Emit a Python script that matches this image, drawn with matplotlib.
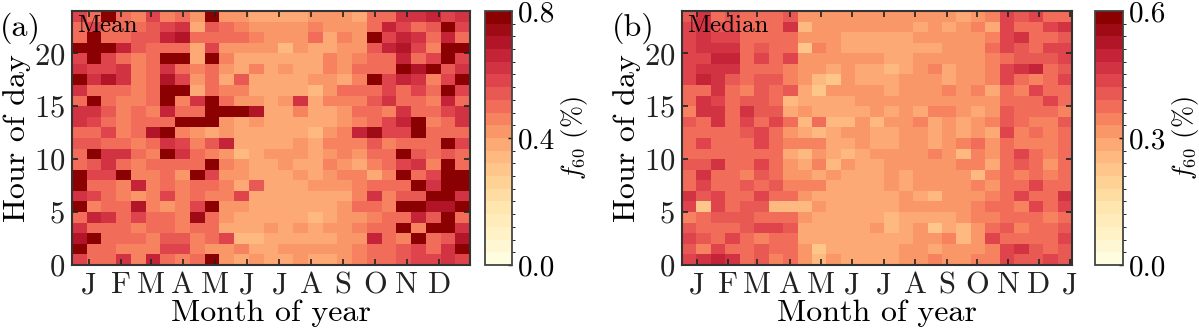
import numpy as np
import matplotlib
matplotlib.use('Agg')
import matplotlib.pyplot as plt
from matplotlib.colors import LinearSegmentedColormap, BoundaryNorm

plt.rcParams['font.family'] = 'serif'
plt.rcParams['font.serif'] = ['cmr10']
plt.rcParams['mathtext.fontset'] = 'cm'
plt.rcParams['axes.formatter.use_mathtext'] = True

# colour level (0..19) of each cell, top row = hour 23
mean_levels = [
    [14,12,19,12,11,14,11,12,10,19,10,10,9, 9,9,9,10,10,10,9,12,12,15,15,16,14,15],
    [12,14,12,12,12,13,14,15,9,13,12,11,10, 10,10,10,11,10,10,10,12,16,14,12,13,19,14],
    [12,19,12,12,13,13,16,17,12,12,12,12,11, 10,10,10,12,9,11,10,19,14,16,15,12,16,12],
    [19,19,19,16,13,12,12,12,9,14,10,10,10, 10,8,10,9,9,10,10,13,16,17,14,11,19,19],
    [14,19,14,12,11,12,19,19,9,19,11,9,9, 9,9,9,9,11,10,11,12,12,16,12,14,19,14],
    [15,14,14,15,11,12,15,12,11,12,10,9,11, 9,10,9,9,11,10,12,12,12,19,17,19,13,15],
    [19,15,17,15,11,12,17,14,10,12,9,13,9, 9,9,9,10,10,9,11,19,14,16,15,11,14,19],
    [15,12,12,12,11,12,19,19,9,12,11,11,9, 9,9,9,8,10,12,12,12,14,12,14,12,19,14],
    [12,19,12,11,11,12,19,11,15,19,12,10,10, 9,10,15,9,11,11,11,13,15,12,12,11,16,12],
    [15,15,13,11,12,11,16,12,12,19,19,19,17, 9,9,11,9,9,10,12,12,11,15,12,12,14,15],
    [15,14,12,11,12,12,12,19,19,19,10,9,10, 9,9,9,9,9,10,11,12,14,16,19,11,12,15],
    [12,12,14,11,12,17,19,11,10,9,10,9,9, 9,9,9,8,10,11,16,18,14,14,19,12,12,12],
    [13,13,12,12,11,12,15,14,11,13,16,9,9, 9,9,10,9,11,11,11,13,11,12,12,12,19,14],
    [12,19,15,15,12,11,19,15,12,11,10,8,9, 10,10,10,9,10,11,10,12,12,19,13,12,13,12],
    [12,13,15,12,11,12,12,12,12,19,11,10,9, 9,10,9,9,11,10,9,11,12,14,15,11,19,12],
    [19,14,14,19,11,11,12,10,19,14,10,10,9, 9,9,10,9,10,11,11,9,11,19,12,14,19,19],
    [19,12,12,11,16,11,12,11,12,12,11,9,13, 9,9,9,10,10,10,11,12,12,12,19,15,19,19],
    [15,14,12,11,10,11,14,11,12,11,11,14,9, 9,9,9,9,9,9,11,15,11,13,13,19,19,15],
    [19,11,12,12,17,11,10,11,14,19,10,10,9, 9,9,9,9,9,10,12,12,11,19,19,17,17,19],
    [12,16,15,12,14,12,12,11,18,12,10,9,9, 9,9,9,8,9,10,10,11,12,12,16,13,19,12],
    [15,12,12,12,11,12,12,11,12,12,9,9,9, 10,9,10,9,10,10,11,12,12,19,11,19,19,15],
    [17,19,12,12,12,11,13,13,11,12,14,8,8, 9,9,9,9,9,10,10,16,12,11,19,12,13,17],
    [19,12,12,11,11,11,14,14,11,10,10,11,9, 9,10,10,10,10,10,11,12,12,13,14,12,15,19],
    [14,12,12,15,11,16,12,11,12,19,10,9,10, 9,9,10,9,9,10,11,12,12,13,14,14,15,14],
]

median_levels = [
    [13,15,12,13,12,12,12,13,10,10,10,10,10, 10,10,10,10,10,10,9,10,11,14,13,14,12,12],
    [14,15,13,13,12,12,12,15,8,10,10,10,10, 10,10,10,9,10,9,10,11,9,14,12,12,14,15],
    [14,15,14,14,12,12,12,12,10,10,10,9,9, 9,9,9,10,10,10,10,10,11,14,15,12,12,13],
    [14,15,15,15,12,13,12,12,7,11,10,9,9, 9,9,9,9,9,10,10,10,12,14,13,12,14,14],
    [14,14,16,16,12,14,12,14,10,10,10,10,10, 10,9,9,10,10,10,10,10,11,12,13,13,13,14],
    [14,15,15,15,12,12,12,11,10,10,9,10,9, 9,8,9,10,11,9,10,10,11,14,15,16,12,13],
    [14,16,15,13,12,13,13,11,10,8,7,10,9, 9,9,10,10,10,9,10,10,11,14,12,11,12,14],
    [12,12,15,12,11,13,12,13,9,7,10,10,10, 10,9,10,10,10,11,10,11,9,12,11,14,12,12],
    [12,15,14,12,13,13,12,8,9,9,9,9,10, 10,10,10,10,10,10,10,10,10,12,12,12,14,12],
    [11,15,15,12,15,13,13,9,10,9,9,9,9, 10,9,10,9,11,11,10,9,10,13,12,12,12,11],
    [13,12,15,12,14,12,14,12,8,12,8,8,10, 8,10,10,11,9,10,9,10,11,13,12,11,11,13],
    [12,12,12,12,13,14,12,10,9,8,9,10,10, 9,9,10,10,9,10,9,10,9,14,11,12,11,12],
    [12,14,12,12,12,14,12,11,11,11,9,9,10, 9,9,10,10,9,10,11,12,10,12,11,11,11,12],
    [12,12,12,12,12,12,12,9,8,10,9,8,9, 10,10,10,10,11,10,8,11,10,12,14,12,11,12],
    [13,13,15,12,12,14,12,10,9,11,8,10,9, 9,10,10,10,10,10,11,11,9,12,13,12,10,12],
    [12,15,12,12,11,13,12,10,10,9,10,9,9, 9,10,9,10,10,10,10,8,11,12,11,12,11,12],
    [12,14,12,12,13,12,13,11,11,11,9,9,9, 9,10,9,10,10,10,10,11,10,12,12,14,12,12],
    [15,13,14,12,12,14,12,12,10,9,9,9,9, 9,9,10,9,8,10,10,10,11,12,14,12,12,15],
    [14,7,14,12,13,13,8,8,8,10,9,9,9, 9,9,10,10,10,10,10,11,12,12,11,14,12,14],
    [11,12,13,13,13,12,12,12,10,9,9,9,9, 9,8,9,9,9,9,10,11,11,12,12,12,11,12],
    [13,12,12,12,13,14,14,13,9,9,9,9,9, 10,8,9,10,7,9,8,10,12,13,11,12,12,13],
    [14,13,12,14,12,11,12,12,9,9,9,9,9, 9,9,9,10,10,11,8,10,14,12,12,12,12,14],
    [13,11,14,12,12,13,12,12,10,7,9,9,9, 9,9,10,10,9,10,10,10,11,14,15,13,12,13],
    [14,15,16,15,12,13,11,12,10,8,10,9,9, 9,9,10,10,11,10,10,11,11,14,13,13,14,13],
]

mean_max = 0.8
median_max = 0.6
n_levels = 20
bin_days = 14

months_a = ['J', 'F', 'M', 'A', 'M', 'J', 'J', 'A', 'S', 'O', 'N', 'D']
months_b = ['J', 'F', 'M', 'A', 'M', 'J', 'J', 'A', 'S', 'O', 'N', 'D', 'J']
month_days_a = [16, 47, 75, 105, 136, 166, 197, 227, 257, 288, 318, 349]
month_days_b = [14.5, 44.6, 72.7, 104.7, 134.7, 164.8, 195.8, 225.8, 256.8, 285.9, 316, 346, 376]

cmap_base = LinearSegmentedColormap.from_list('f60', [
    (0.0, '#fffde0'), (0.2, '#ffe8b0'), (0.35, '#fecb8d'), (0.45, '#fdb27a'),
    (0.55, '#f98e64'), (0.65, '#ef6656'), (0.75, '#dc3f4c'), (0.87, '#bd1a32'),
    (1.0, '#8b0000')])
cmap = cmap_base.resampled(n_levels)

fig = plt.figure(figsize=(11.99, 3.32), dpi=100)
ax_a = fig.add_axes([0.060, 0.202, 0.332, 0.765])
cax_a = fig.add_axes([0.4045, 0.202, 0.0225, 0.765])
ax_b = fig.add_axes([0.5688, 0.202, 0.3253, 0.765])
cax_b = fig.add_axes([0.9133, 0.202, 0.0234, 0.765])

panels = [
    (ax_a, cax_a, mean_levels, mean_max, 'Mean', '(a)', months_a, month_days_a, [0, 0.4, 0.8]),
    (ax_b, cax_b, median_levels, median_max, 'Median', '(b)', months_b, month_days_b, [0, 0.3, 0.6]),
]

for ax, cax, levels, vmax, name, tag, mlabels, mdays, cticks in panels:
    vals = (np.flipud(np.array(levels)) + 0.5) * vmax / n_levels
    ncol = vals.shape[1]
    xe = np.arange(ncol + 1) * bin_days
    ye = np.arange(25)
    norm = BoundaryNorm(np.linspace(0, vmax, n_levels + 1), cmap.N)
    mesh = ax.pcolormesh(xe, ye, vals, cmap=cmap, norm=norm)
    ax.set_xlim(xe[0], xe[-1])
    ax.set_ylim(0, 24)
    ax.set_xticks(mdays)
    ax.set_xticklabels(mlabels)
    ax.set_yticks([0, 5, 10, 15, 20])
    ax.tick_params(direction='in', top=True, right=True, length=4, width=1.2,
                   labelsize=22, colors='#222222', pad=5)
    for s in ax.spines.values():
        s.set_linewidth(1.5)
        s.set_color('#333333')
    ax.set_xlabel('Month of year', fontsize=23, labelpad=0)
    ax.set_ylabel('Hour of day', fontsize=23, labelpad=2)
    ax.text(0.012, 0.985, name, transform=ax.transAxes, ha='left', va='top', fontsize=18)
    ax.text(-0.18, 0.93, tag, transform=ax.transAxes, ha='left', va='center', fontsize=23)

    cb = fig.colorbar(mesh, cax=cax, ticks=cticks, format='%.1f')
    cb.outline.set_linewidth(1.3)
    cb.outline.set_edgecolor('#444444')
    cax.tick_params(direction='in', length=3, width=1, labelsize=21, pad=4)
    cb.set_label(r'$f_{60}$ (%)', fontsize=19, labelpad=3)

fig.savefig('out.png', dpi=100)
